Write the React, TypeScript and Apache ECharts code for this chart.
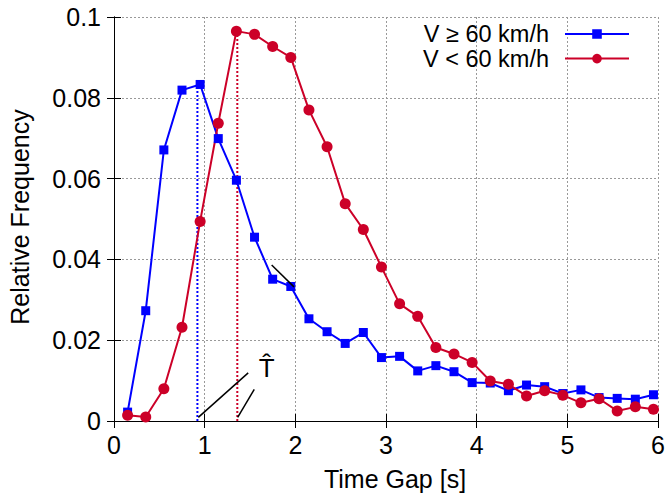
import React, { useEffect, useRef } from "react";
import * as echarts from "echarts";

const timeGap = [0.15, 0.35, 0.55, 0.75, 0.95, 1.15, 1.35, 1.55, 1.75, 1.95, 2.15, 2.35, 2.55, 2.75, 2.95, 3.15, 3.35, 3.55, 3.75, 3.95, 4.15, 4.35, 4.55, 4.75, 4.95, 5.15, 5.35, 5.55, 5.75, 5.95];
const freqFast = [0.0022, 0.0273, 0.0671, 0.0819, 0.0833, 0.0699, 0.0596, 0.0455, 0.0351, 0.0333, 0.0253, 0.0221, 0.0192, 0.0219, 0.0157, 0.016, 0.0124, 0.0137, 0.0122, 0.0095, 0.0094, 0.0075, 0.0089, 0.0085, 0.0068, 0.0077, 0.0058, 0.0056, 0.0054, 0.0065];
const freqSlow = [0.0014, 0.001, 0.008, 0.0232, 0.0494, 0.0737, 0.0965, 0.0957, 0.0927, 0.09, 0.077, 0.0679, 0.0538, 0.0474, 0.0381, 0.029, 0.0259, 0.0182, 0.0166, 0.0145, 0.0099, 0.0091, 0.0062, 0.0075, 0.0064, 0.0045, 0.0055, 0.0025, 0.0035, 0.0029];
const xTickLabels = ["0", "1", "2", "3", "4", "5", "6"];
const yTickLabels = ["0", "0.02", "0.04", "0.06", "0.08", "0.1"];
const seriesNames = ["V \u2265 60 km/h", "V < 60 km/h"];
const modeFast = [0.92, 0.0831];
const modeSlow = [1.36, 0.0963];
const pointerA = [[0.93, 0.0009], [1.48, 0.0119]];
const pointerB = [[1.364, 0.0009], [1.547, 0.0078]];
const pointerC = [[1.739, 0.0386], [1.985, 0.0332]];
const tHatText = [1.684, 0.0132];

const BLUE = "#0000ff";
const RED = "#cc0028";
const FONT = "Liberation Sans, Arial, sans-serif";
const FS = 25;

export default function App() {
  const ref = useRef<HTMLDivElement>(null);
  useEffect(() => {
    const chart = echarts.init(ref.current!, null, { renderer: "svg" });
    const gridLine = { show: true, lineStyle: { color: "#999999", type: [2, 2] as any, width: 1 } };
    const tick = { show: true, inside: true, length: 7, lineStyle: { color: "#000", width: 1 } };
    const axisLine = { show: true, lineStyle: { color: "#000", width: 1 } };
    const labelStyle = { color: "#000", fontSize: FS, fontFamily: FONT };
    const option: any = {
      animation: false,
      backgroundColor: "#fff",
      grid: { left: 114, right: 13, top: 17, bottom: 73, containLabel: false },
      legend: {
        orient: "vertical",
        right: 36,
        top: 17,
        align: "right",
        itemWidth: 64,
        itemHeight: 12,
        itemGap: 0.6,
        selectedMode: false,
        textStyle: { color: "#000", fontSize: 23.5, fontFamily: FONT, lineHeight: 22, padding: [0, 11, 0, 0] },
        data: seriesNames,
      },
      xAxis: [
        {
          type: "value", min: 0, max: 6, interval: 1, position: "bottom",
          axisLine, axisTick: tick, splitLine: gridLine,
          axisLabel: { ...labelStyle, margin: 11, formatter: (_v: number, i: number) => xTickLabels[i] },
        },
        {
          type: "value", min: 0, max: 6, interval: 1, position: "top",
          axisLine, axisTick: tick, splitLine: { show: false }, axisLabel: { show: false },
        },
      ],
      yAxis: [
        {
          type: "value", min: 0, max: 0.1, interval: 0.02, position: "left",
          axisLine, axisTick: tick, splitLine: gridLine,
          axisLabel: { ...labelStyle, margin: 13, formatter: (_v: number, i: number) => yTickLabels[i] },
        },
        {
          type: "value", min: 0, max: 0.1, interval: 0.02, position: "right",
          axisLine, axisTick: tick, splitLine: { show: false }, axisLabel: { show: false },
        },
      ],
      series: [
        {
          name: seriesNames[0], type: "line", z: 3,
          data: timeGap.map((x, i) => [x, freqFast[i]]),
          symbol: "rect", symbolSize: 9,
          itemStyle: { color: BLUE }, lineStyle: { color: BLUE, width: 2 },
        },
        {
          name: seriesNames[1], type: "line", z: 3,
          data: timeGap.map((x, i) => [x, freqSlow[i]]),
          symbol: "circle", symbolSize: 11,
          itemStyle: { color: RED }, lineStyle: { color: RED, width: 2 },
        },
        {
          type: "line", z: 1, symbol: "none",
          data: [[modeFast[0], 0], modeFast],
          lineStyle: { color: BLUE, width: 2, type: [2, 2] },
        },
        {
          type: "line", z: 1, symbol: "none",
          data: [[modeSlow[0], 0], modeSlow],
          lineStyle: { color: RED, width: 2, type: [2, 2] },
        },
        ...[pointerA, pointerB, pointerC].map((d) => ({
          type: "line", z: 4, symbol: "none", data: d,
          lineStyle: { color: "#000", width: 1.5 },
        })),
      ],
    };
    chart.setOption(option);
    const pT = chart.convertToPixel({ xAxisIndex: 0, yAxisIndex: 0 }, tHatText) as number[];
    chart.setOption({
      graphic: [
        { type: "text", x: pT[0], y: pT[1], z: 10, style: { text: "T\u0302", font: `${FS + 1}px ${FONT}`, fill: "#000", textAlign: "center", textVerticalAlign: "middle" } },
        { type: "text", x: 20, y: 217, rotation: Math.PI / 2, style: { text: "Relative Frequency", font: `${FS}px ${FONT}`, fill: "#000", textAlign: "center", textVerticalAlign: "middle" } },
        { type: "text", x: 395, y: 479, style: { text: "Time Gap [s]", font: `${FS}px ${FONT}`, fill: "#000", textAlign: "center", textVerticalAlign: "middle" } },
      ],
    });
    return () => chart.dispose();
  }, []);
  return <div ref={ref} style={{ position: "fixed", left: 0, top: 0, width: 671, height: 494 }} />;
}
